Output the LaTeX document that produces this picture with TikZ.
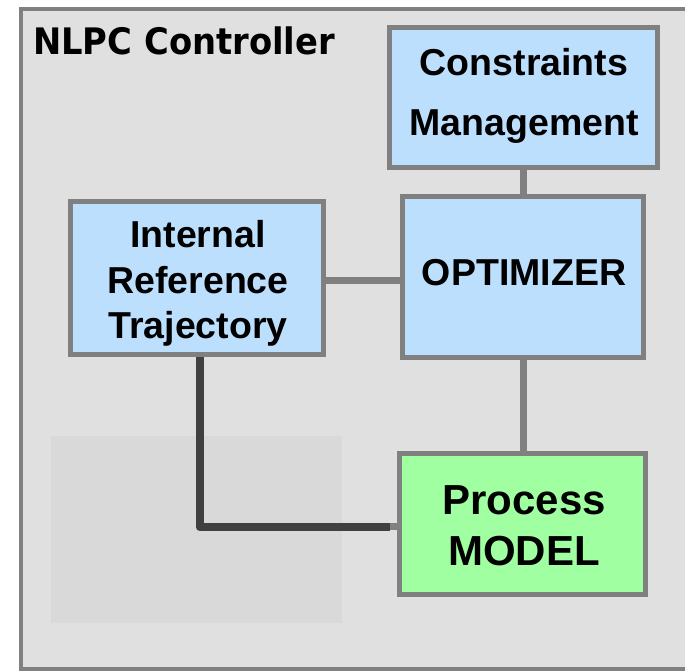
\documentclass[tikz,border=0pt]{standalone}
\usepackage{fontspec}
\setmainfont{Liberation Sans}
\newfontfamily\titlefont[FakeStretch=0.925]{DejaVu Sans}
\definecolor{framefill}{HTML}{E0E0E0}
\definecolor{shadegray}{HTML}{D9D9D9}
\definecolor{bordergray}{HTML}{808080}
\definecolor{boxblue}{HTML}{BDDFFE}
\definecolor{boxgreen}{HTML}{A0FFA0}
\definecolor{darkline}{HTML}{404040}
\pgfdeclarelayer{framelayer}
\pgfdeclarelayer{connlayer}
\pgfsetlayers{framelayer,connlayer,main}
\tikzset{
  blockbox/.style={draw=bordergray, line width=5pt, rectangle, inner sep=0pt, outer sep=0pt},
  bluebox/.style={blockbox, fill=boxblue},
  greenbox/.style={blockbox, fill=boxgreen},
  btext/.style={align=center, inner sep=0pt, font=\bfseries\fontsize{37.5}{60}\selectfont},
  conn/.style={draw=bordergray, line width=7pt},
  darkconn/.style={draw=darkline, line width=8pt, line join=round},
}
\begin{document}
\begin{tikzpicture}[x=1pt, y=-1pt]
\useasboundingbox (0,0) rectangle (685,671);
\clip (0,0) rectangle (685,671);
\begin{pgfonlayer}{framelayer}
\fill[white] (0,0) rectangle (685,671);
\draw[draw=bordergray, fill=framefill, line width=4pt] (21,9.5) rectangle (720,669);
\end{pgfonlayer}
\node[anchor=base west, inner sep=0pt, font=\titlefont\bfseries\fontsize{36.5}{40}\selectfont] (title) at (33,55) {NLPC Controller};
% boxes
\node[bluebox, minimum width=268pt, minimum height=140pt] (cm) at (523.5,97.5) {};
\node[bluebox, minimum width=241pt, minimum height=161pt] (opt) at (523,277) {};
\node[bluebox, minimum width=253pt, minimum height=153pt] (irt) at (197,278) {};
\node[greenbox, minimum width=246pt, minimum height=141pt] (mod) at (522.5,524) {};
% texts
\node[btext, font=\bfseries\fontsize{37.5}{60}\selectfont] (cmt) at (524,95.5) {Constraints\\Management};
\node[btext] (optt) at (524,273) {OPTIMIZER};
\node[btext, font=\bfseries\fontsize{37.5}{45.5}\selectfont] (irtt) at (198,283.5) {Internal\\Reference\\Trajectory};
\node[btext, font=\bfseries\fontsize{42}{51}\selectfont] (modt) at (524,526) {Process\\MODEL};
% connectors
\coordinate (corner) at (199.5,527);
\begin{pgfonlayer}{connlayer}
\draw[conn] (cm.south) -- (cm.south |- opt.north);
\draw[conn] (opt.south) -- (opt.south |- mod.north);
\draw[conn] ([yshift=-2pt]irt.east) -- ([yshift=-2pt]irt.east -| opt.west);
\draw[conn] (irt.south -| corner) -- ([yshift=1pt]corner) -- ([yshift=1pt]corner -| mod.west);
\fill[shadegray] (51,436) rectangle (342,623);
\draw[darkconn] (irt.south -| corner) -- (corner) -- ([xshift=-9.5pt]corner -| mod.west);
\end{pgfonlayer}
\end{tikzpicture}
\end{document}
